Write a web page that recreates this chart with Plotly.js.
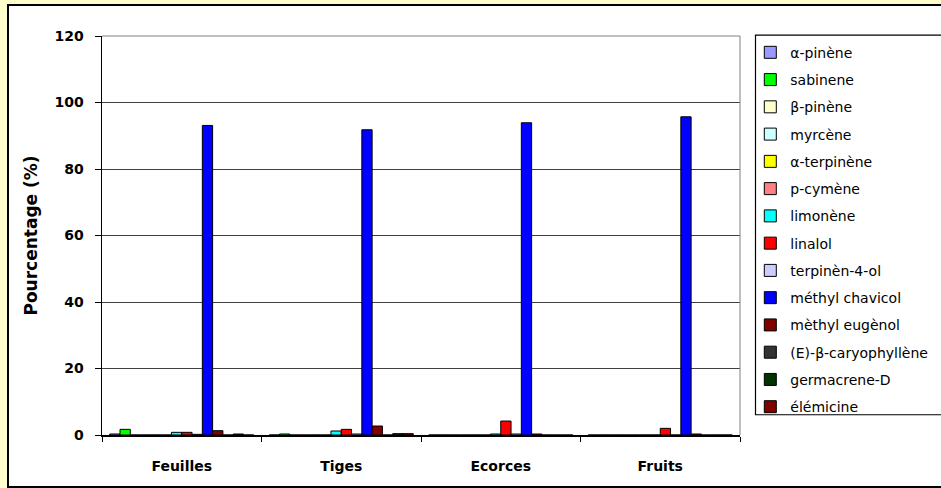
<!DOCTYPE html>
<html>
<head>
<meta charset="utf-8">
<script src="https://cdn.plot.ly/plotly-3.0.1.min.js"></script>
<style>
  html, body { margin: 0; padding: 0; background: #FFFFCC; overflow: hidden; }
  #frame { position: absolute; left: 7px; top: 4px; width: 940px; height: 484px;
           box-sizing: border-box; border: 2px solid #000; background: #fff; }
  #chart { width: 936px; height: 480px; }
</style>
</head>
<body>
<div id="frame"><div id="chart"></div></div>
<script>
const categories = ["Feuilles", "Tiges", "Ecorces", "Fruits"];

const seriesNames = [
  "α-pinène", "sabinene", "β-pinène", "myrcène", "α-terpinène", "p-cymène",
  "limonène", "linalol", "terpinèn-4-ol", "méthyl chavicol", "mèthyl eugènol",
  "(E)-β-caryophyllène", "germacrene-D", "élémicine"
];

const alphaPinene     = [0.3, 0, 0, 0];
const sabinene        = [1.7, 0.3, 0, 0];
const betaPinene      = [0, 0, 0, 0];
const myrcene         = [0, 0, 0, 0];
const alphaTerpinene  = [0, 0, 0, 0];
const pCymene         = [0, 0, 0, 0];
const limonene        = [0.8, 1.2, 0.3, 0];
const linalol         = [0.8, 1.7, 4.2, 2.0];
const terpinen4ol     = [0.2, 0.3, 0.3, 0];
const methylChavicol  = [93.1, 91.8, 93.9, 95.7];
const methylEugenol   = [1.3, 2.7, 0.3, 0.3];
const caryophyllene   = [0, 0, 0, 0];
const germacreneD     = [0.3, 0.4, 0, 0];
const elemicine       = [0, 0.4, 0, 0];

const seriesValues = [alphaPinene, sabinene, betaPinene, myrcene, alphaTerpinene, pCymene,
  limonene, linalol, terpinen4ol, methylChavicol, methylEugenol, caryophyllene, germacreneD, elemicine];

const seriesColors = ["#9999FF", "#00FF00", "#FFFFCC", "#CCFFFF", "#FFFF00", "#FF8080",
  "#00FFFF", "#FF0000", "#CCCCFF", "#0000FF", "#800000", "#333333", "#003300", "#800000"];

const yTickVals = [0, 20, 40, 60, 80, 100, 120];

const FONT = "'DejaVu Sans', 'Liberation Sans', sans-serif";

const traces = seriesNames.map((name, i) => ({
  type: "bar",
  name: name,
  x: categories,
  y: seriesValues[i],
  legendgroup: "g" + i,
  marker: { color: seriesColors[i], line: { color: "#000", width: 1 } },
  hoverinfo: "x+y+name"
}));

const layout = {
  width: 936, height: 480,
  margin: { l: 93, r: 204.5, t: 30, b: 50.7, pad: 0 },
  paper_bgcolor: "#fff",
  plot_bgcolor: "#fff",
  barmode: "group",
  bargap: 0.0968,
  bargroupgap: 0,
  font: { family: FONT, color: "#000", size: 14 },
  xaxis: {
    type: "category",
    showline: true, linecolor: "#000", linewidth: 1.5,
    ticks: "outside", tickson: "boundaries", ticklen: 5, tickcolor: "#000", tickwidth: 1,
    tickfont: { family: FONT, size: 14, color: "#000", weight: "bold" },
    ticklabelstandoff: 18,
    showgrid: false, zeroline: false, fixedrange: true
  },
  yaxis: {
    range: [0, 120], tickvals: yTickVals, ticktext: yTickVals.map(String),
    showline: true, linecolor: "#000", linewidth: 1.5,
    ticks: "outside", ticklen: 6, tickcolor: "#000", tickwidth: 1,
    tickfont: { family: FONT, size: 14, color: "#000", weight: "bold" },
    ticklabelstandoff: 8,
    showgrid: true, gridcolor: "#404040", gridwidth: 1,
    zeroline: false, fixedrange: true,
    title: { text: "Pourcentage (%)", font: { family: FONT, size: 17, color: "#000", weight: "bold" }, standoff: 12 }
  },
  legend: {
    xref: "container", yref: "container",
    x: 0.792, y: 0.936, xanchor: "left", yanchor: "top",
    maxheight: 470,
    traceorder: "grouped", tracegroupgap: 6.06,
    bgcolor: "rgba(0,0,0,0)", borderwidth: 0,
    font: { family: FONT, size: 14, color: "#000" }
  },
  shapes: [
    { type: "line", xref: "paper", yref: "paper", x0: 0, x1: 1, y0: 1, y1: 1, line: { color: "#808080", width: 1 }, layer: "above" },
    { type: "line", xref: "paper", yref: "paper", x0: 1, x1: 1, y0: 0, y1: 1, line: { color: "#808080", width: 1 }, layer: "above" },
    { type: "rect", xref: "paper", yref: "paper", x0: 1.0243, x1: 1.4, y0: 0.0508, y1: 1.002, line: { color: "#000", width: 1.2 }, fillcolor: "rgba(0,0,0,0)", layer: "above" }
  ],
  showlegend: true
};

Plotly.newPlot("chart", traces, layout, { displayModeBar: false, staticPlot: true });
</script>
</body>
</html>
